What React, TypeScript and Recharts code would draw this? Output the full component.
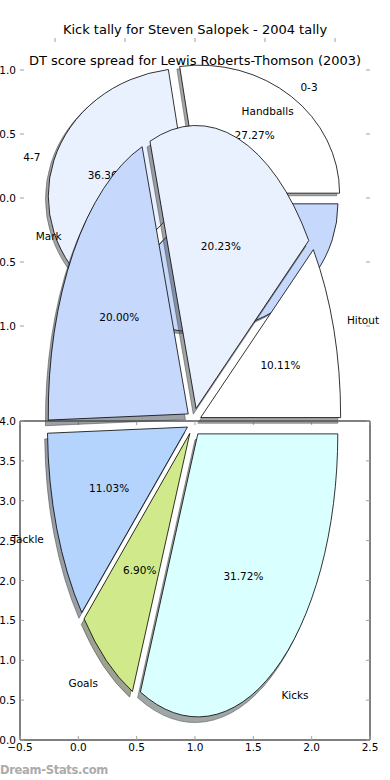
import React from 'react';
import { PieChart, Pie, ScatterChart, Scatter, XAxis, YAxis } from 'recharts';

// Kick tally for Steven Salopek (2004) - kicks per game bands
const kickBands = ['0-3', '4-7', '8-11'];
const kickCounts = [3, 4, 4];
const kickColors = ['#ffffff', '#eaf1fe', '#c6d9fc'];

// DT score spread for Lewis Roberts-Thomson (2003), percent of points
const dtStats = ['Kicks', 'Goals', 'Tackle', 'Mark', 'Handballs', 'Hitout'];
const dtShares = [31.72, 6.9, 11.03, 20.0, 20.23, 10.11];
const dtColors = ['#d9ffff', '#d0ea8b', '#b4d4fd', '#c6d9fd', '#eaf1fe', '#ffffff'];

const kickAxisTicks = [-1, -0.5, 0, 0.5, 1];
const dtXTicks = [-0.5, 0, 0.5, 1, 1.5, 2, 2.5];
const dtYTicks = [0, 0.5, 1, 1.5, 2, 2.5, 3, 3.5, 4];

const kickData = kickBands.map((name, i) => ({ name, value: kickCounts[i] }));
const dtData = dtStats.map((name, i) => ({ name, value: dtShares[i] }));

const FONT = '"DejaVu Sans", sans-serif';

type Look = { squash: number; explode: number; colors: string[] };
const kickLook: Look = { squash: 128 / 140, explode: 0.05, colors: kickColors };
const dtLook: Look = { squash: 283 / 140, explode: 0.05, colors: dtColors };

const rad = (d: number) => (d * Math.PI) / 180;

// recharts only does round sectors, stretch them into the ellipse the old plot had
function wedge(p: any, look: Look) {
  const rx = p.outerRadius;
  const ry = rx * look.squash;
  const mid = (p.startAngle + p.endAngle) / 2;
  const cx = p.cx + look.explode * rx * Math.cos(rad(mid));
  const cy = p.cy - look.explode * ry * Math.sin(rad(mid));
  const at = (a: number, k = 1) => [cx + k * rx * Math.cos(rad(a)), cy - k * ry * Math.sin(rad(a))];
  return { rx, ry, mid, cx, cy, at };
}

function wedgePath(p: any, look: Look) {
  const w = wedge(p, look);
  const [x1, y1] = w.at(p.startAngle);
  const [x2, y2] = w.at(p.endAngle);
  const large = Math.abs(p.endAngle - p.startAngle) > 180 ? 1 : 0;
  const sweep = p.endAngle > p.startAngle ? 0 : 1;
  return `M${w.cx},${w.cy}L${x1},${y1}A${w.rx},${w.ry} 0 ${large} ${sweep} ${x2},${y2}Z`;
}

function dim(hex: string) {
  const n = parseInt(hex.slice(1), 16);
  const c = [(n >> 16) & 255, (n >> 8) & 255, n & 255].map((v) => Math.round(v * 0.3));
  return `rgb(${c.join(',')})`;
}

const shadowLayer = (look: Look) => (p: any) => {
  const c = dim(look.colors[p.index]);
  const dy = 0.02 * p.outerRadius * look.squash;
  return (
    <path d={wedgePath(p, look)} transform={`translate(-2.8,${dy})`} fill={c} stroke={c}
      strokeWidth={1} fillOpacity={0.5} strokeOpacity={0.5} />
  );
};

const wedgeLayer = (look: Look) => (p: any) => (
  <path d={wedgePath(p, look)} fill={look.colors[p.index]} stroke="#000" strokeWidth={0.8} />
);

const textLayer = (look: Look) => (p: any) => {
  const w = wedge(p, look);
  const [nx, ny] = w.at(w.mid, 1.1);
  const [px, py] = w.at(w.mid, 0.6);
  return (
    <g fontFamily={FONT} fontSize={10.5} fill="#000">
      <text x={nx} y={ny} textAnchor={nx > w.cx ? 'start' : 'end'} dominantBaseline="central">{p.name}</text>
      <text x={px} y={py} textAnchor="middle" dominantBaseline="central">{(p.percent * 100).toFixed(2)}%</text>
    </g>
  );
};

// matplotlib style: short inward ticks, labels only on left/bottom
function Tick(props: any) {
  const { x, y, payload, side, labelled } = props;
  const txt = Number(payload.value).toFixed(1).replace('-', '\u2212');
  const len = 4;
  const ends: Record<string, number[]> = {
    bottom: [x, y, x, y - len],
    top: [x, y, x, y + len],
    left: [x, y, x + len, y],
    right: [x, y, x - len, y],
  };
  const [x1, y1, x2, y2] = ends[side];
  return (
    <g>
      <line x1={x1} y1={y1} x2={x2} y2={y2} stroke="#a0a0a0" strokeWidth={1} />
      {labelled && side === 'left' && (
        <text x={x - 4} y={y} textAnchor="end" dominantBaseline="central" fontFamily={FONT} fontSize={10.5} fill="#000">{txt}</text>
      )}
      {labelled && side === 'bottom' && (
        <text x={x} y={y + 3} textAnchor="middle" dominantBaseline="hanging" fontFamily={FONT} fontSize={10.5} fill="#000">{txt}</text>
      )}
    </g>
  );
}

const axisCommon = {
  type: 'number' as const,
  allowDataOverflow: true,
  tickSize: 0,
  tickMargin: 0,
  tickLine: false,
  interval: 0 as const,
};

function Layer({ children }: { children: React.ReactNode }) {
  return <div style={{ position: 'absolute', left: 0, top: 0 }}>{children}</div>;
}

// one invisible point so the axes have something to hang on
const anchorPoint = [{ x: 0, y: 0 }];

export default function App() {
  return (
    <div style={{ position: 'absolute', left: 0, top: 0, width: 390, height: 780, background: '#fff', overflow: 'hidden', fontFamily: FONT }}>
      {/* axes of the kick tally plot, only the ticks show */}
      <Layer>
        <ScatterChart width={390} height={780} margin={{ top: 37, right: 19, bottom: 422, left: 19 }}>
          <XAxis {...axisCommon} dataKey="x" xAxisId="t" orientation="top" height={1} domain={[-1.25, 1.25]} ticks={kickAxisTicks}
            axisLine={false} tick={<Tick side="top" />} />
          <YAxis {...axisCommon} dataKey="y" yAxisId="l" orientation="left" width={1} domain={[-1.25, 1.25]} ticks={kickAxisTicks}
            axisLine={false} tick={<Tick side="left" labelled />} />
          <YAxis {...axisCommon} dataKey="y" yAxisId="r" orientation="right" width={1} domain={[-1.25, 1.25]} ticks={kickAxisTicks}
            axisLine={false} tick={<Tick side="right" />} />
          <Scatter xAxisId="t" yAxisId="l" data={anchorPoint} fill="none" isAnimationActive={false} />
          <Scatter xAxisId="t" yAxisId="r" data={anchorPoint} fill="none" isAnimationActive={false} />
        </ScatterChart>
      </Layer>

      {/* framed axes of the DT plot */}
      <Layer>
        <ScatterChart width={390} height={780} margin={{ top: 420, right: 19, bottom: 39, left: 19 }}>
          <XAxis {...axisCommon} dataKey="x" xAxisId="b" orientation="bottom" height={1} domain={[-0.5, 2.5]} ticks={dtXTicks}
            axisLine={{ stroke: '#000' }} tick={<Tick side="bottom" labelled />} />
          <XAxis {...axisCommon} dataKey="x" xAxisId="t" orientation="top" height={1} domain={[-0.5, 2.5]} ticks={dtXTicks}
            axisLine={{ stroke: '#000' }} tick={<Tick side="top" />} />
          <YAxis {...axisCommon} dataKey="y" yAxisId="l" orientation="left" width={1} domain={[0, 4]} ticks={dtYTicks}
            axisLine={{ stroke: '#000' }} tick={<Tick side="left" labelled />} />
          <YAxis {...axisCommon} dataKey="y" yAxisId="r" orientation="right" width={1} domain={[0, 4]} ticks={dtYTicks}
            axisLine={{ stroke: '#000' }} tick={<Tick side="right" />} />
          <Scatter xAxisId="b" yAxisId="l" data={anchorPoint} fill="none" isAnimationActive={false} />
          <Scatter xAxisId="t" yAxisId="r" data={anchorPoint} fill="none" isAnimationActive={false} />
        </ScatterChart>
      </Layer>

      <Layer>
        <PieChart width={390} height={780} margin={{ top: 0, right: 0, bottom: 0, left: 0 }}>
          {[shadowLayer, wedgeLayer, textLayer].map((layer, i) => (
            <Pie key={'kick' + i} data={kickData} dataKey="value" nameKey="name" cx={195} cy={198} outerRadius={140}
              startAngle={0} endAngle={360} fill="none" stroke="none" label={layer(kickLook)} labelLine={false}
              isAnimationActive={false} />
          ))}
          {[shadowLayer, wedgeLayer, textLayer].map((layer, i) => (
            <Pie key={'dt' + i} data={dtData} dataKey="value" nameKey="name" cx={194} cy={422} outerRadius={140}
              startAngle={0} endAngle={-360} fill="none" stroke="none" label={layer(dtLook)} labelLine={false}
              isAnimationActive={false} />
          ))}
        </PieChart>
      </Layer>

      <div style={{ position: 'absolute', left: 0, top: 22, width: 390, textAlign: 'center', fontSize: 13, lineHeight: '16px' }}>
        Kick tally for Steven Salopek - 2004 tally
      </div>
      <div style={{ position: 'absolute', left: 0, top: 53, width: 390, textAlign: 'center', fontSize: 13, lineHeight: '16px' }}>
        DT score spread for Lewis Roberts-Thomson (2003)
      </div>
      <div style={{ position: 'absolute', left: 0, top: 762, fontSize: 11.5, fontWeight: 'bold', color: '#ababab', lineHeight: '16px', letterSpacing: -0.3 }}>
        Dream-Stats.com
      </div>
    </div>
  );
}
